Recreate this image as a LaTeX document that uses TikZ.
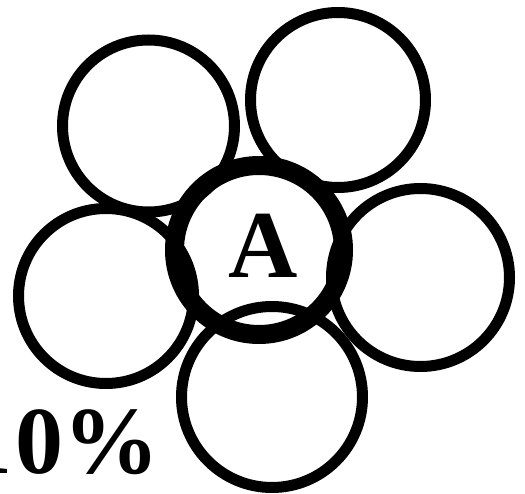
\documentclass[tikz,border=0pt]{standalone}
\usepackage{fontspec}
\setmainfont{Liberation Serif}
\begin{document}
\begin{tikzpicture}[x=1pt,y=-1pt,
  petal/.style={draw=black,circle,line width=11pt,inner sep=0pt},
  core/.style={draw=black,circle,line width=19pt,inner sep=0pt},
  bigtext/.style={inner sep=0pt,font=\fontsize{96}{96}\selectfont\bfseries}]
\useasboundingbox[fill=white] (0,0) rectangle (525,494);
\node[petal,minimum size=172pt] (tl) at (148.5,126) {};
\node[petal,minimum size=175pt] (tr) at (338,100) {};
\node[petal,minimum size=178pt] (r) at (420.5,277.5) {};
\node[petal,minimum size=181pt] (b) at (272,397) {};
\node[petal,minimum size=175pt] (l) at (106,296) {};
\node[core,minimum size=169pt] (c) at (259,250) {};
\node[bigtext,anchor=base] (a) at (263.5,278) {A};
\node[bigtext,anchor=base west] (pct) at (-35.5,473) {1\kern3pt 0\%};
\end{tikzpicture}
\end{document}
